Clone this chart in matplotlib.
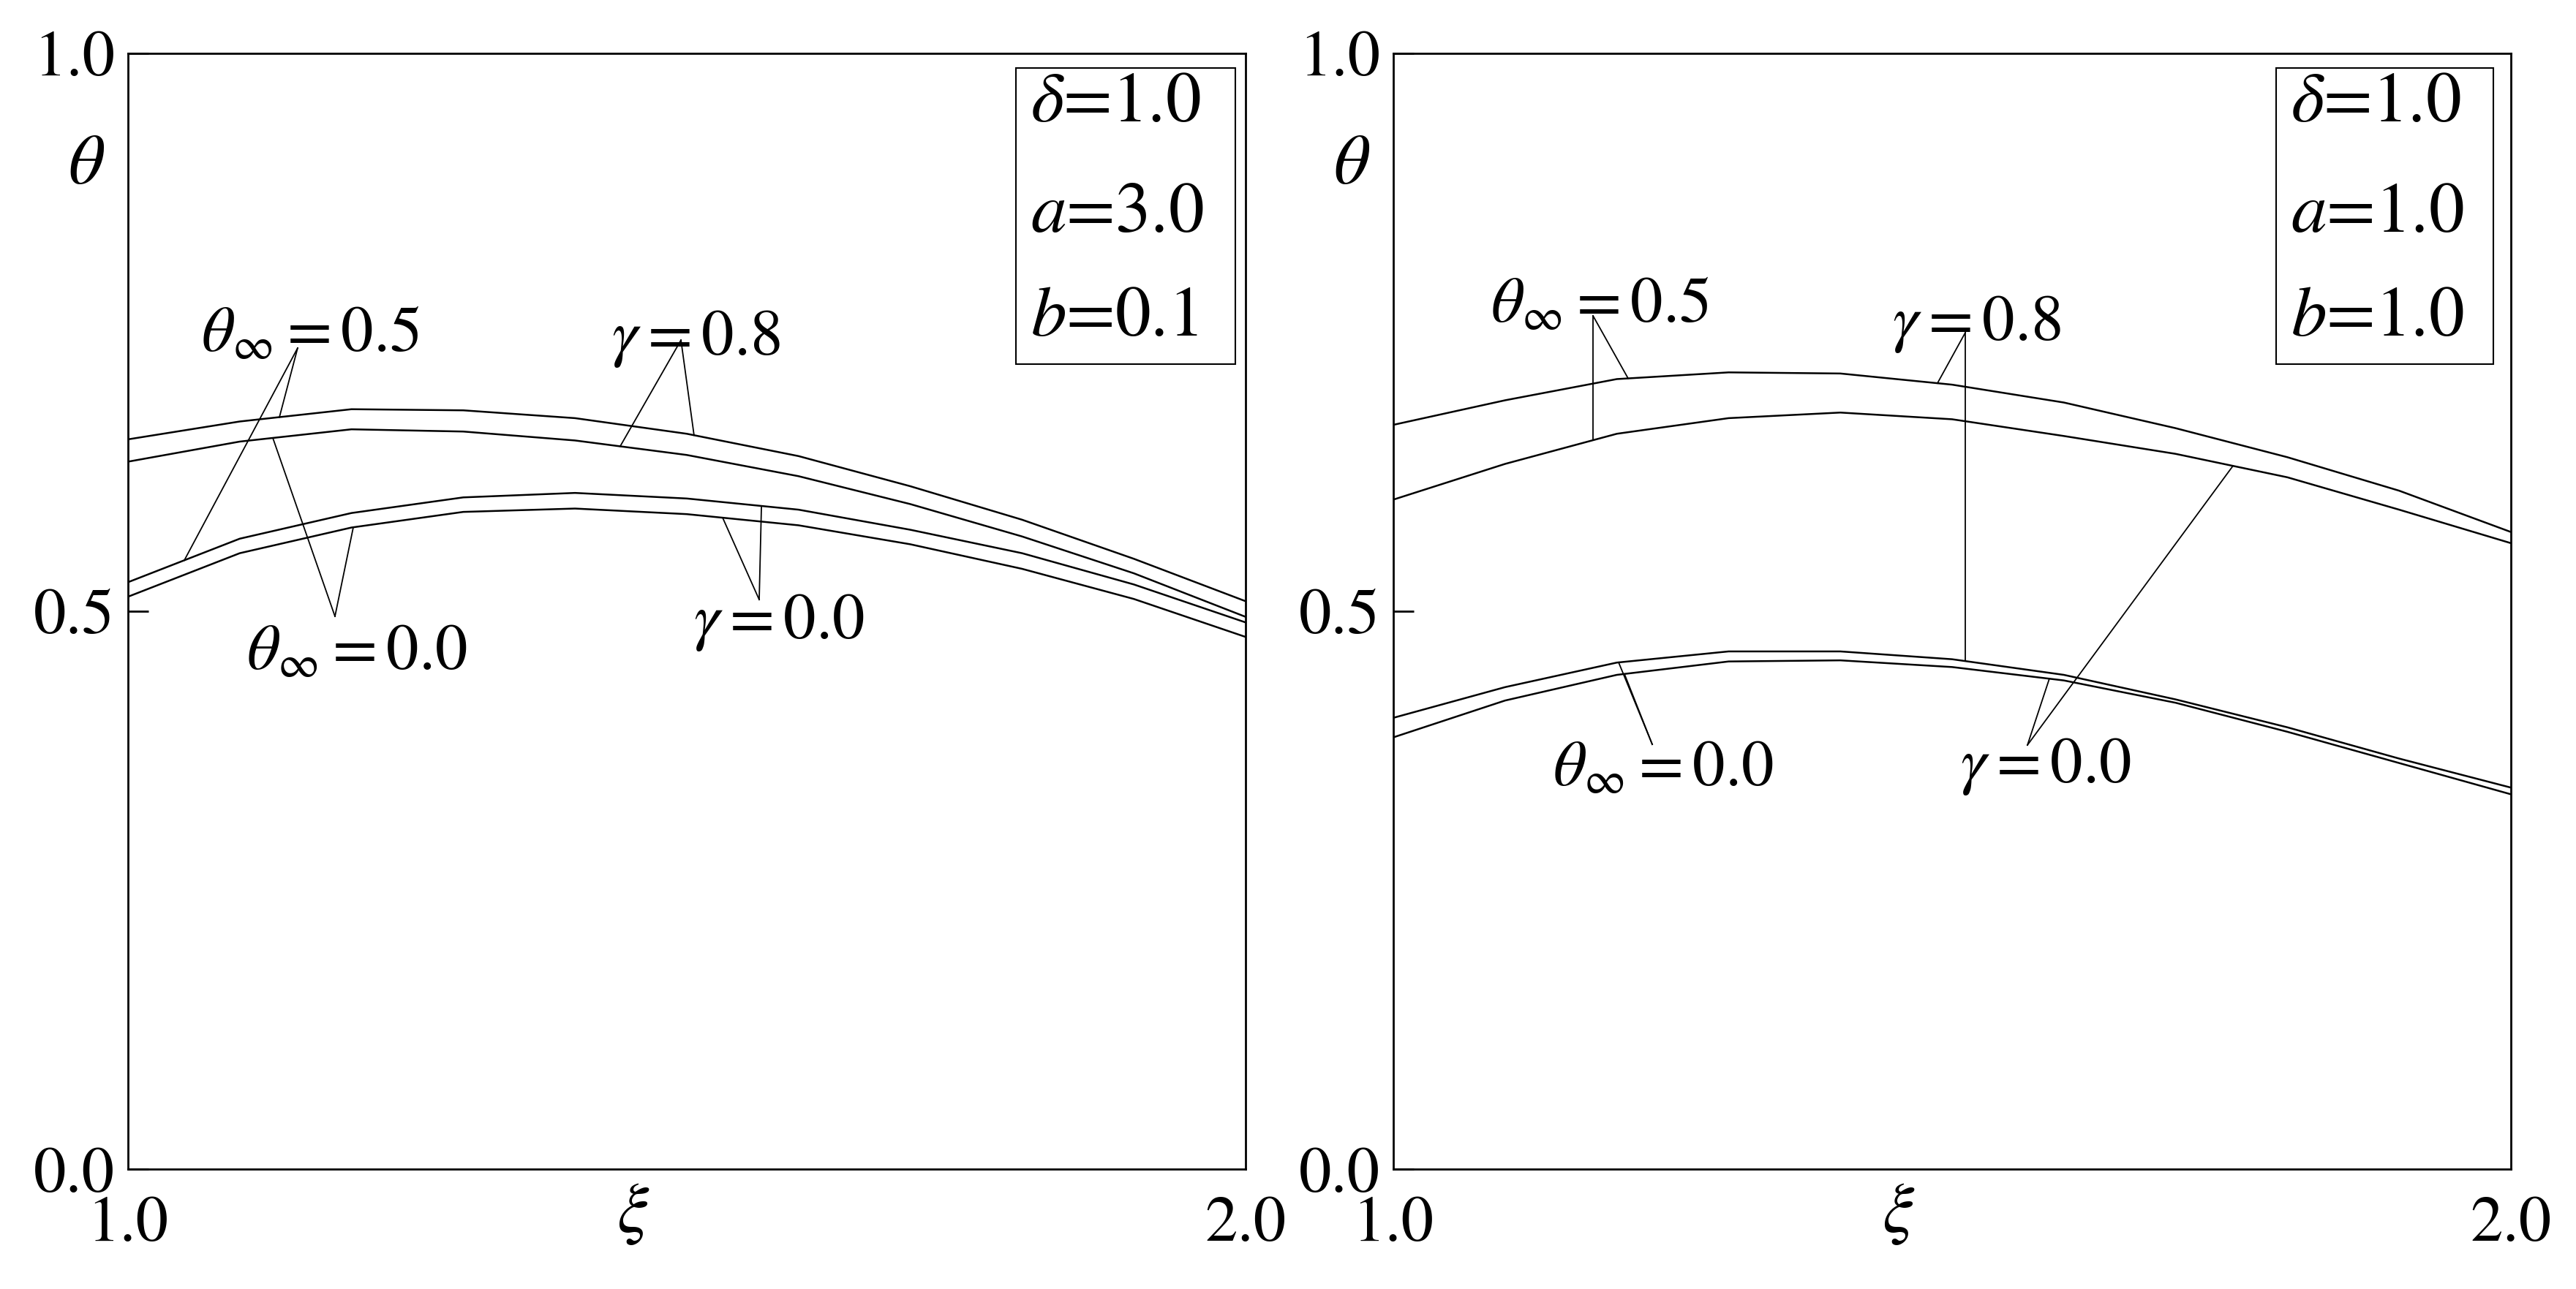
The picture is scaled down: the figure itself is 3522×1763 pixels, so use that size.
import numpy as np
import matplotlib.pyplot as plt
from matplotlib.patches import Rectangle

plt.rcParams['font.family'] = 'STIXGeneral'
plt.rcParams['mathtext.fontset'] = 'stix'

# sample points along xi
xi = [1.0, 1.1, 1.2, 1.3, 1.4, 1.5, 1.6, 1.7, 1.8, 1.9, 2.0]

# left panel: delta=1.0, a=3.0, b=0.1
L_t05_g08 = [0.654, 0.670, 0.681, 0.680, 0.673, 0.659, 0.639, 0.612, 0.582, 0.547, 0.509]
L_t00_g08 = [0.634, 0.652, 0.663, 0.661, 0.653, 0.640, 0.621, 0.596, 0.567, 0.534, 0.495]
L_t05_g00 = [0.526, 0.565, 0.588, 0.602, 0.606, 0.601, 0.591, 0.573, 0.552, 0.524, 0.490]
L_t00_g00 = [0.513, 0.552, 0.575, 0.589, 0.592, 0.587, 0.577, 0.560, 0.538, 0.511, 0.477]

# right panel: delta=1.0, a=1.0, b=1.0
R_t05_g08 = [0.667, 0.689, 0.708, 0.714, 0.713, 0.703, 0.687, 0.664, 0.638, 0.608, 0.571]
R_t05_g00 = [0.600, 0.632, 0.659, 0.673, 0.678, 0.672, 0.657, 0.641, 0.620, 0.591, 0.561]
R_t00_g08 = [0.4045, 0.432, 0.454, 0.464, 0.464, 0.457, 0.443, 0.421, 0.396, 0.368, 0.342]
R_t00_g00 = [0.387, 0.420, 0.443, 0.455, 0.456, 0.450, 0.438, 0.418, 0.392, 0.364, 0.336]

L_params = [r'$\delta$=1.0', r'$a$=3.0', r'$b$=0.1']
R_params = [r'$\delta$=1.0', r'$a$=1.0', r'$b$=1.0']

FS = 64


def leader(ax, apex, pts):
    # pts: list of (xi position, curve)
    for xp, c in pts:
        yp = np.interp(xp, xi, c)
        ax.plot([apex[0], xp], [apex[1], yp], color='k', lw=1.3)


def setup(ax, params, box):
    ax.set_xlim(1.0, 2.0)
    ax.set_ylim(0.0, 1.0)
    for s in ax.spines.values():
        s.set_linewidth(2.0)
    ax.set_xticks([1.0, 2.0])
    ax.set_xticklabels(['1.0', '2.0'])
    ax.set_yticks([0.0, 0.5, 1.0])
    ax.set_yticklabels(['0.0', '0.5', '1.0'])
    ax.tick_params(axis='y', direction='in', length=20, width=2, pad=13, labelsize=FS)
    ax.tick_params(axis='x', direction='in', length=0, pad=27, labelsize=FS)
    ax.text(-0.037, 0.898, r'$\theta$', transform=ax.transAxes, fontsize=70,
            ha='center', va='center')
    ax.text(0.452, -0.041, r'$\xi$', transform=ax.transAxes, fontsize=70,
            ha='center', va='center')
    ax.add_patch(Rectangle((box[0], 0.7214), box[1] - box[0], 0.9867 - 0.7214,
                           transform=ax.transAxes, fill=False, lw=1.5, color='k'))
    for t, yy in zip(params, [0.9538, 0.855, 0.762]):
        ax.text(box[0] + 0.013, yy, t, transform=ax.transAxes, fontsize=70,
                ha='left', va='center')


fig = plt.figure(figsize=(35.23, 17.63), dpi=100)
ax1 = fig.add_axes([0.04967, 0.09285, 0.43372, 0.86591])
ax2 = fig.add_axes([0.54073, 0.09285, 0.43372, 0.86591])

# left panel
for c in [L_t05_g08, L_t00_g08, L_t05_g00, L_t00_g00]:
    ax1.plot(xi, c, color='k', lw=1.8)
setup(ax1, L_params, (0.7945, 0.9908))

ax1.text(1.0654, 0.7332, r'$\theta_\infty = 0.5$', fontsize=FS, ha='left', va='baseline')
ax1.text(1.4326, 0.7296, r'$\gamma = 0.8$', fontsize=FS, ha='left', va='baseline')
ax1.text(1.1060, 0.4482, r'$\theta_\infty = 0.0$', fontsize=FS, ha='left', va='baseline')
ax1.text(1.5059, 0.4757, r'$\gamma = 0.0$', fontsize=FS, ha='left', va='baseline')
leader(ax1, (1.1518, 0.7358), [(1.1355, L_t05_g08), (1.0504, L_t05_g00)])
leader(ax1, (1.4948, 0.7429), [(1.5065, L_t05_g08), (1.4404, L_t00_g08)])
leader(ax1, (1.1852, 0.4954), [(1.1296, L_t00_g08), (1.2016, L_t00_g00)])
leader(ax1, (1.5648, 0.5104), [(1.5668, L_t05_g00), (1.5321, L_t00_g00)])

# right panel
for c in [R_t05_g08, R_t05_g00, R_t00_g08, R_t00_g00]:
    ax2.plot(xi, c, color='k', lw=1.8)
setup(ax2, R_params, (0.790, 0.9843))

ax2.text(1.0870, 0.7594, r'$\theta_\infty = 0.5$', fontsize=FS, ha='left', va='baseline')
ax2.text(1.4463, 0.7430, r'$\gamma = 0.8$', fontsize=FS, ha='left', va='baseline')
ax2.text(1.1427, 0.3441, r'$\theta_\infty = 0.0$', fontsize=FS, ha='left', va='baseline')
ax2.text(1.5072, 0.3468, r'$\gamma = 0.0$', fontsize=FS, ha='left', va='baseline')
leader(ax2, (1.1787, 0.7647), [(1.2101, R_t05_g08), (1.1787, R_t05_g00)])
leader(ax2, (1.5118, 0.7496), [(1.4869, R_t05_g08), (1.5118, R_t00_g08)])
leader(ax2, (1.2317, 0.3807), [(1.2016, R_t00_g08), (1.2068, R_t00_g00)])
leader(ax2, (1.5674, 0.3801), [(1.5870, R_t00_g00), (1.7513, R_t05_g00)])

fig.savefig('out.png', dpi=100, facecolor='white')
